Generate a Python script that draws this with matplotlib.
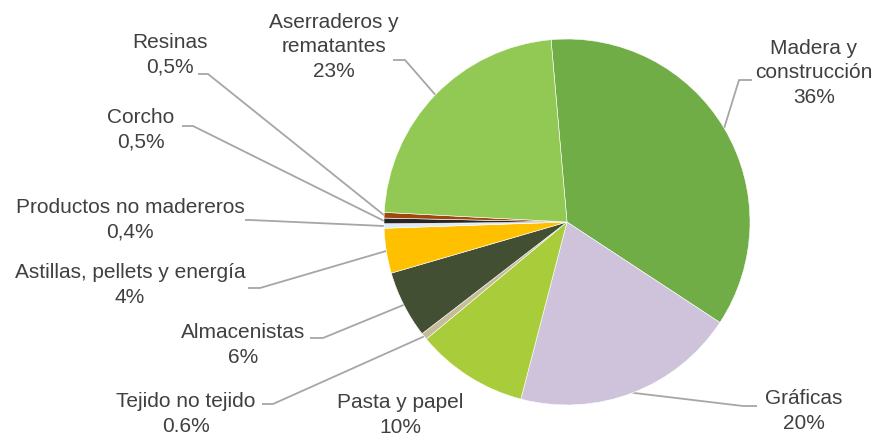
import numpy as np
import matplotlib
matplotlib.use("Agg")
import matplotlib.pyplot as plt

plt.rcParams["font.family"] = ["Liberation Sans", "DejaVu Sans"]

# data (clockwise from the top)
labels = ["Madera y\nconstrucción", "Gráficas", "Pasta y papel", "Tejido no tejido",
          "Almacenistas", "Astillas, pellets y energía", "Productos no madereros",
          "Corcho", "Resinas", "Aserraderos y\nrematantes"]
values = [36, 20, 10, 0.6, 6, 4, 0.4, 0.5, 0.5, 23]
pct_text = ["36%", "20%", "10%", "0.6%", "6%", "4%", "0,4%", "0,5%", "0,5%", "23%"]
colors = ["#70AD47", "#CFC3DC", "#A9CD3A", "#C4BD97", "#434F33",
          "#FFC000", "#DDEBF7", "#262626", "#9E480E", "#92C955"]

# layout, in pixels from the top-left corner
W, H = 880, 438
CX, CY, R = 567, 222, 183
label_xy = [(814, 73), (804, 411), (400, 415), (186, 414), (243, 345),
            (130, 285), (130, 220), (141, 130), (170, 55), (334, 47)]
# (elbow, end of short horizontal) of each leader line, None = no line
leader = [((739, 80), (752, 80)), ((743, 406), (757, 406)), None,
          ((273, 404), (262, 404)), ((323, 338), (310, 338)),
          ((260, 288), (248, 288)), ((250, 220), (245, 220)),
          ((193, 126), (182, 126)), ((208, 74), (198, 74)),
          ((405, 60), (393, 60))]

fig = plt.figure(figsize=(W / 100, H / 100), dpi=100)
ax = fig.add_axes([0, 0, 1, 1])
wedges, _ = ax.pie(values, colors=colors, startangle=95, counterclock=False,
                   radius=R, center=(CX, H - CY),
                   wedgeprops=dict(edgecolor="white", linewidth=0.4))
ax.set_xlim(0, W)
ax.set_ylim(0, H)
ax.set_aspect("equal")
ax.axis("off")

for w, lab, pct, (lx, ly), ld in zip(wedges, labels, pct_text, label_xy, leader):
    ax.text(lx, H - ly, f"{lab}\n{pct}", ha="center", va="center",
            fontsize=15, color="#404040", linespacing=1.38)
    if ld is None:
        continue
    ang = np.deg2rad((w.theta1 + w.theta2) / 2)
    px, py = CX + R * np.cos(ang), (H - CY) + R * np.sin(ang)
    (ex, ey), (hx, hy) = ld
    ax.plot([px, ex, hx], [py, H - ey, H - hy], color="#A6A6A6", lw=1.3,
            solid_capstyle="butt", zorder=0.5)

fig.savefig("out.png", dpi=100)
